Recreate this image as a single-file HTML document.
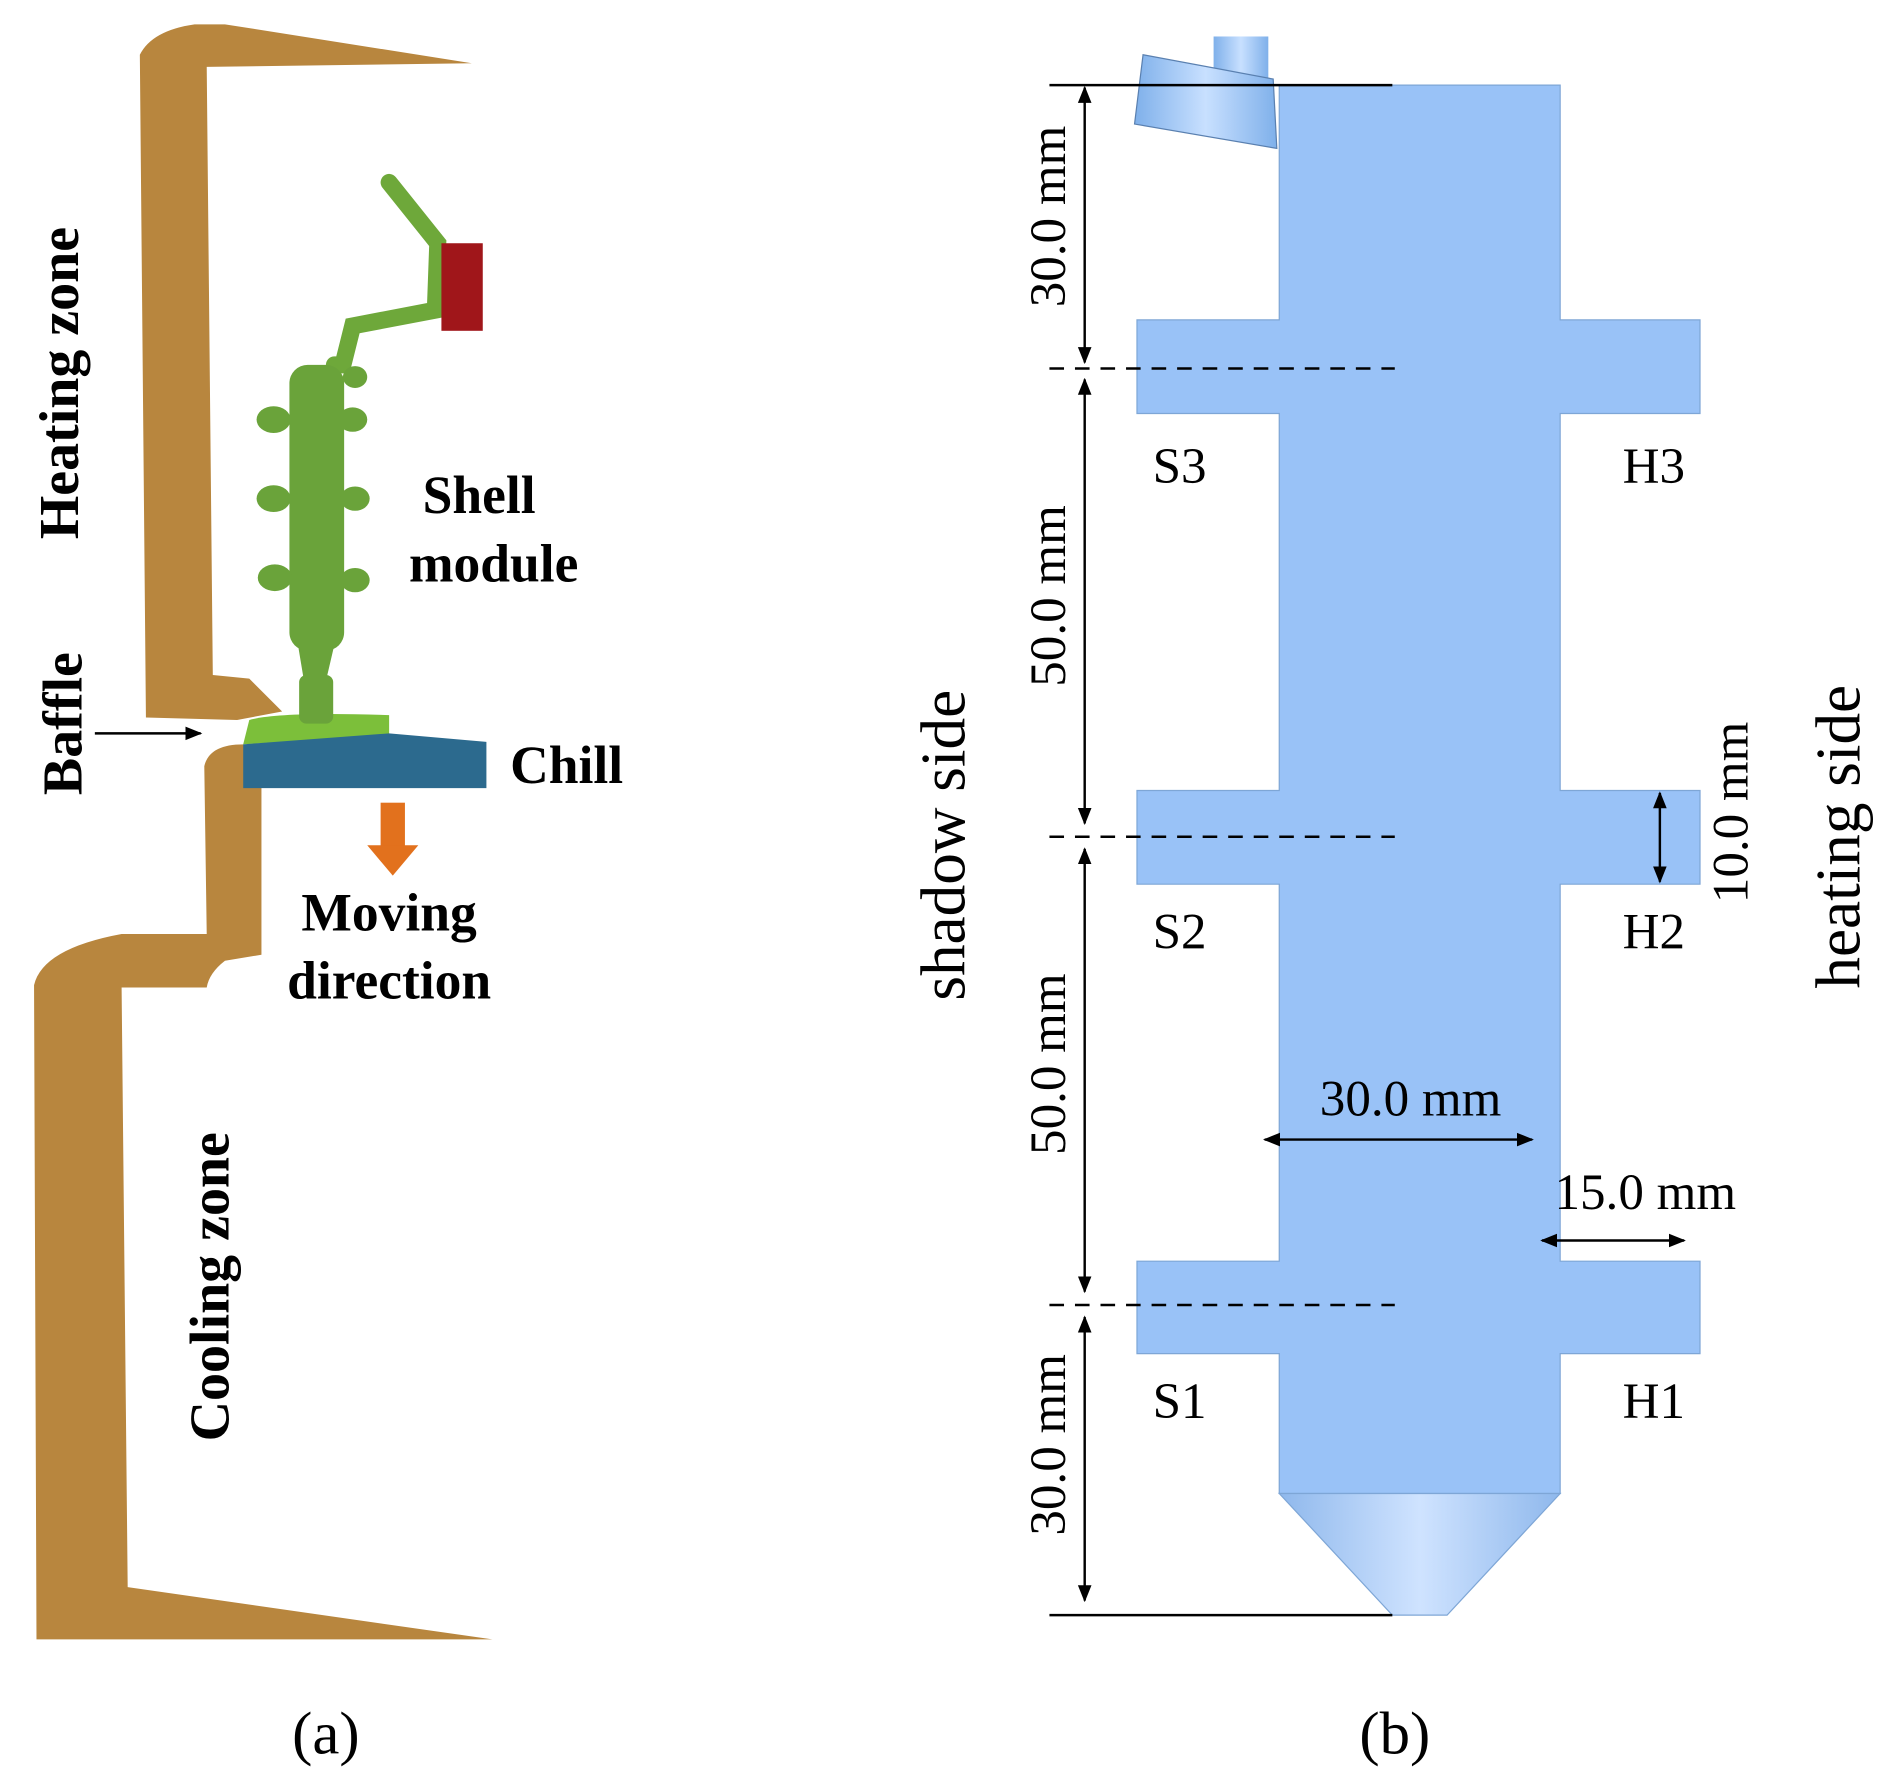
<!DOCTYPE html>
<html><head><meta charset="utf-8"><style>
html,body{margin:0;padding:0;background:#fff}
svg{display:block}
text{font-family:"Liberation Serif",serif}
</style></head><body>
<svg width="1897" height="1772" viewBox="0 0 1560 1457" preserveAspectRatio="none" xmlns="http://www.w3.org/2000/svg">
<defs>
<marker id="ah" viewBox="0 0 10 10" refX="9" refY="5" markerWidth="7" markerHeight="7" orient="auto-start-reverse"><path d="M0,1 L10,5 L0,9 z" fill="#000"/></marker>
<linearGradient id="cone" x1="0" x2="1" y1="0" y2="0"><stop offset="0" stop-color="#8fb8ec"/><stop offset="0.5" stop-color="#cfe3ff"/><stop offset="1" stop-color="#8fb8ec"/></linearGradient>
<linearGradient id="pipe" x1="0" x2="1"><stop offset="0" stop-color="#7fb0ea"/><stop offset="0.5" stop-color="#c8e0ff"/><stop offset="1" stop-color="#7fb0ea"/></linearGradient>
</defs>
<!-- (a) heater -->
<path d="M115,45 Q125,25 160,20 L185,20 L388,52 L170,55 L175,555 L205,558 L232,585 L195,592 L120,590 Z" fill="#b8863e"/>
<path d="M168,630 Q172,612 200,612 L215,620 L215,785 L185,790 Q172,800 170,812 L100,812 L105,1305 L405,1348 L30,1348 L28,810 Q35,780 100,768 L170,768 Z" fill="#b8863e"/>
<!-- shell module -->
<path d="M200,612 L205,592 Q230,585 320,588 L320,605 Z" fill="#7cbf3a"/>
<path d="M200,612 L320,603 L400,610 L400,648 L200,648 Z" fill="#2c6a8e"/>
<path d="M320,150 L360,200 L358,255 L290,268 L282,300 L275,300" stroke="#6ea83a" stroke-width="14" fill="none" stroke-linecap="round"/>
<rect x="238" y="300" width="45" height="235" rx="15" fill="#6aa33a"/>
<g fill="#6aa33a">
<ellipse cx="225" cy="345" rx="14" ry="11"/><ellipse cx="290" cy="345" rx="12" ry="10"/>
<ellipse cx="225" cy="410" rx="14" ry="11"/><ellipse cx="292" cy="410" rx="12" ry="10"/>
<ellipse cx="226" cy="475" rx="14" ry="11"/><ellipse cx="292" cy="477" rx="12" ry="10"/>
<ellipse cx="292" cy="310" rx="10" ry="9"/>
<path d="M245,530 L275,530 L268,560 L250,560 Z"/>
<rect x="246" y="555" width="28" height="40" rx="6"/>
</g>
<rect x="363" y="200" width="34" height="72" fill="#a0161a"/>
<!-- arrows -->
<line x1="78" y1="603" x2="165" y2="603" stroke="#000" stroke-width="2" marker-end="url(#ah)"/>
<rect x="313" y="660" width="20" height="36" fill="#e2711d"/>
<path d="M302,695 L344,695 L323,720 Z" fill="#e2711d"/>
<g font-weight="bold" font-size="46" fill="#000">
<text transform="translate(64,315) rotate(-90)" text-anchor="middle">Heating zone</text>
<text transform="translate(67,595) rotate(-90)" text-anchor="middle">Baffle</text>
<text transform="translate(188,1058) rotate(-90)" text-anchor="middle">Cooling zone</text>
</g>
<g font-weight="bold" font-size="44" fill="#000">
<text x="394" y="422" text-anchor="middle">Shell</text>
<text x="406" y="478" text-anchor="middle">module</text>
<text x="466" y="644" text-anchor="middle">Chill</text>
<text x="320" y="765" text-anchor="middle">Moving</text>
<text x="320" y="821" text-anchor="middle">direction</text>
</g>
<text x="268" y="1442" font-size="50" text-anchor="middle">(a)</text>
<!-- (b) -->
<g transform="translate(-5,0)">
<path d="M1057,70 L1288,70 L1288,263 L1403,263 L1403,340 L1288,340 L1288,650 L1403,650 L1403,727 L1288,727 L1288,1037 L1403,1037 L1403,1113 L1288,1113 L1288,1228 L1057,1228 L1057,1113 L940,1113 L940,1037 L1057,1037 L1057,727 L940,727 L940,650 L1057,650 L1057,340 L940,340 L940,263 L1057,263 Z" fill="#99c2f7" stroke="#7ea6d6" stroke-width="1"/>
<path d="M1057,1228 L1288,1228 L1195,1328 L1150,1328 Z" fill="url(#cone)" stroke="#7ea6d6"/>
<rect x="1003" y="30" width="45" height="40" fill="url(#pipe)"/>
<path d="M945,45 L1052,65 L1055,122 L938,102 Z" fill="url(#pipe)" stroke="#5a80b0"/>
<g stroke="#000" stroke-width="2">
<line x1="868" y1="70" x2="1150" y2="70"/>
<line x1="868" y1="1328" x2="1150" y2="1328"/>
<g stroke-dasharray="12,9"><line x1="868" y1="303" x2="1152" y2="303"/><line x1="868" y1="688" x2="1152" y2="688"/><line x1="868" y1="1073" x2="1152" y2="1073"/></g>
<line x1="897" y1="72" x2="897" y2="298" marker-start="url(#ah)" marker-end="url(#ah)"/>
<line x1="897" y1="312" x2="897" y2="677" marker-start="url(#ah)" marker-end="url(#ah)"/>
<line x1="897" y1="698" x2="897" y2="1062" marker-start="url(#ah)" marker-end="url(#ah)"/>
<line x1="897" y1="1083" x2="897" y2="1316" marker-start="url(#ah)" marker-end="url(#ah)"/>
<line x1="1045" y1="937" x2="1265" y2="937" marker-start="url(#ah)" marker-end="url(#ah)"/>
<line x1="1273" y1="1020" x2="1390" y2="1020" marker-start="url(#ah)" marker-end="url(#ah)"/>
<line x1="1370" y1="652" x2="1370" y2="725" marker-start="url(#ah)" marker-end="url(#ah)"/>
</g>
<g font-size="42" fill="#000">
<text transform="translate(881,178) rotate(-90)" text-anchor="middle">30.0 mm</text>
<text transform="translate(881,490) rotate(-90)" text-anchor="middle">50.0 mm</text>
<text transform="translate(881,875) rotate(-90)" text-anchor="middle">50.0 mm</text>
<text transform="translate(881,1188) rotate(-90)" text-anchor="middle">30.0 mm</text>
<text transform="translate(1442,668) rotate(-90)" text-anchor="middle">10.0 mm</text>
<text x="1165" y="917" text-anchor="middle">30.0 mm</text>
<text x="1358" y="994" text-anchor="middle">15.0 mm</text>
<text x="975" y="397" text-anchor="middle">S3</text><text x="1365" y="397" text-anchor="middle">H3</text>
<text x="975" y="780" text-anchor="middle">S2</text><text x="1365" y="780" text-anchor="middle">H2</text>
<text x="975" y="1166" text-anchor="middle">S1</text><text x="1365" y="1166" text-anchor="middle">H1</text>
</g>
<g font-size="52" fill="#000">
<text transform="translate(798,695) rotate(-90)" text-anchor="middle">shadow side</text>
<text transform="translate(1534,688) rotate(-90)" text-anchor="middle">heating side</text>
</g>
<text x="1152" y="1442" font-size="50" text-anchor="middle">(b)</text>
</g>
</svg>
</body></html>
